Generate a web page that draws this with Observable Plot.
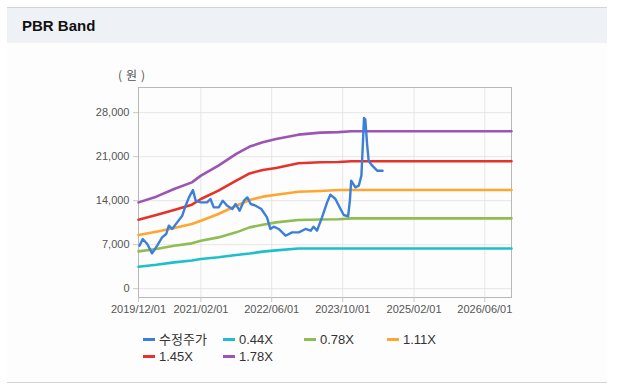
<!DOCTYPE html>
<html><head><meta charset="utf-8">
<script src="https://cdn.jsdelivr.net/npm/d3@7"></script>
<script src="https://cdn.jsdelivr.net/npm/@observablehq/plot@0.6"></script>
<style>
body{margin:0;background:#fff;width:620px;height:386px;position:relative;overflow:hidden;font-family:"Liberation Sans",Arial,sans-serif}
#panel{position:absolute;left:7px;top:7px;width:600px;height:374px;border-top:1px solid #d4d4d4;border-bottom:1px solid #d4d4d4;background:#fdfdfd}
#head{position:absolute;left:0;top:0;width:600px;height:35px;background:#eef2f7}
#title{position:absolute;left:15px;top:0;line-height:35px;font-weight:bold;font-size:15px;color:#111;font-family:"Liberation Sans",Arial,sans-serif}
#unit{position:absolute;left:118px;top:66px;font-size:12px;color:#555;font-family:"Noto Sans CJK KR",sans-serif;line-height:18px;letter-spacing:4px}
#chart{position:absolute;left:0;top:60px}
.lg{position:absolute;font-size:13px;color:#333;line-height:16px;white-space:nowrap;font-family:"Liberation Sans","Noto Sans CJK KR",sans-serif}
.lg i{display:inline-block;width:12px;height:2.5px;vertical-align:middle;margin-right:4px;margin-top:-2px}
</style></head>
<body>
<div id="panel"><div id="head"><div id="title">PBR Band</div></div></div>
<div id="unit">(원)</div>
<div id="chart"></div>
<div id="legend"></div>
<script>
// ---- data ----
const seriesNames = ["수정주가", "0.44X", "0.78X", "1.11X", "1.45X", "1.78X"];
const seriesColors = ["#3b7fd8", "#1ebfcb", "#8fbd52", "#ffa630", "#e6322b", "#9c55b2"];

const bandDates = ["2019-12-01","2020-04-01","2020-08-01","2020-12-01","2021-02-01","2021-06-01","2021-10-01","2022-01-01","2022-04-01","2022-07-01","2022-12-01","2023-05-01","2023-09-01","2023-12-01","2026-12-01"];
const band044 = [3480, 3800, 4190, 4480, 4720, 5000, 5360, 5600, 5900, 6100, 6400, 6400, 6400, 6400, 6400];
const band078 = [5940, 6310, 6840, 7210, 7640, 8160, 8960, 9750, 10180, 10550, 10930, 11000, 11050, 11190, 11190];
const band111 = [8540, 9070, 9650, 10290, 10820, 11880, 13200, 14110, 14640, 14950, 15430, 15550, 15700, 15700, 15700];
const band145 = [10980, 11720, 12520, 13360, 14270, 15590, 17180, 18340, 18880, 19200, 19940, 20100, 20150, 20260, 20260];
const band178 = [13730, 14640, 15860, 16910, 17980, 19570, 21430, 22600, 23280, 23810, 24500, 24820, 24900, 25030, 25030];

const priceDates = ["2019-12-08","2019-12-30","2020-01-30","2020-03-03","2020-04-07","2020-05-11","2020-06-08","2020-06-26","2020-07-19","2020-08-22","2020-09-26","2020-10-19","2020-11-11","2020-12-08","2020-12-27","2021-01-30","2021-03-15","2021-04-07","2021-04-30","2021-06-03","2021-07-01","2021-07-31","2021-09-04","2021-09-27","2021-10-24","2021-11-23","2021-12-16","2022-01-08","2022-02-11","2022-03-22","2022-04-30","2022-05-23","2022-06-15","2022-07-19","2022-09-04","2022-10-19","2022-12-04","2023-01-19","2023-02-23","2023-03-15","2023-04-08","2023-05-12","2023-06-16","2023-07-08","2023-08-12","2023-09-16","2023-10-08","2023-11-07","2023-11-19","2023-11-28","2023-12-27","2024-01-19","2024-02-06","2024-02-15","2024-02-24","2024-03-04","2024-03-16","2024-03-27","2024-04-19","2024-05-24","2024-06-30"];
const priceValues = [6840,7900,7110,5620,6840,8170,8700,10020,9500,10550,11610,13200,14520,15700,14000,13730,13730,14270,12930,12930,14000,13200,12680,13470,12410,14000,14520,13470,13200,12680,11350,9500,9860,9500,8430,8960,8960,9500,9230,9860,9230,11350,13730,14950,14270,12680,11720,11500,14000,17180,16120,16390,17980,22480,27160,26900,23000,20300,19600,18770,18770];

const xTickLabels = ["2019/12/01","2021/02/01","2022/06/01","2023/10/01","2025/02/01","2026/06/01"];
const xDomain = ["2019-12-01","2026-12-01"];
const yTicks = [0, 7000, 14000, 21000, 28000];

// ---- build ----
const parseTick = d3.utcParse("%Y/%m/%d");
const xTicks = xTickLabels.map(parseTick);
const toRows = (dates, vals) => dates.map((d, i) => ({date: new Date(d), value: vals[i]}));
const bands = [band044, band078, band111, band145, band178];
const price = toRows(priceDates, priceValues);

const marks = [
  Plot.gridX(xTicks, {stroke: "#e6e6e6", strokeOpacity: 1}),
  Plot.gridY(yTicks, {stroke: "#e6e6e6", strokeOpacity: 1}),
  Plot.frame({stroke: "#b8b8b8"}),
  Plot.axisX(xTicks, {tickFormat: d3.utcFormat("%Y/%m/%d"), tickSize: 5, tickPadding: 3, stroke: "#c8c8c8", fill: "#555", fontSize: 11, label: null}),
  Plot.axisY(yTicks, {tickFormat: d3.format(","), tickSize: 5, tickPadding: 4, stroke: "#c8c8c8", fill: "#555", fontSize: 11, label: null})
];
bands.forEach((b, i) => {
  marks.push(Plot.line(toRows(bandDates, b), {x: "date", y: "value", stroke: seriesColors[i + 1], strokeWidth: 2.6}));
});
marks.push(Plot.line(price, {x: "date", y: "value", stroke: seriesColors[0], strokeWidth: 2.4, strokeLinejoin: "round"}));

const chart = Plot.plot({
  width: 620,
  height: 262,
  marginTop: 27,
  marginBottom: 25,
  marginLeft: 138,
  marginRight: 109,
  style: {fontFamily: "'Liberation Sans', Arial, sans-serif", fontSize: "11px", background: "transparent", overflow: "visible"},
  x: {type: "utc", domain: xDomain.map(d => new Date(d)), label: null},
  y: {domain: [-1400, 32000], label: null},
  marks
});
document.getElementById("chart").appendChild(chart);

// ---- legend ----
const legend = document.getElementById("legend");
const colX = [143, 223, 304, 387];
const rowY = [332, 349];
seriesNames.forEach((name, i) => {
  const el = document.createElement("div");
  el.className = "lg";
  el.style.left = colX[i % 4] + "px";
  el.style.top = rowY[Math.floor(i / 4)] + "px";
  el.innerHTML = `<i style="background:${seriesColors[i]}"></i>${name}`;
  legend.appendChild(el);
});
</script>
</body></html>
